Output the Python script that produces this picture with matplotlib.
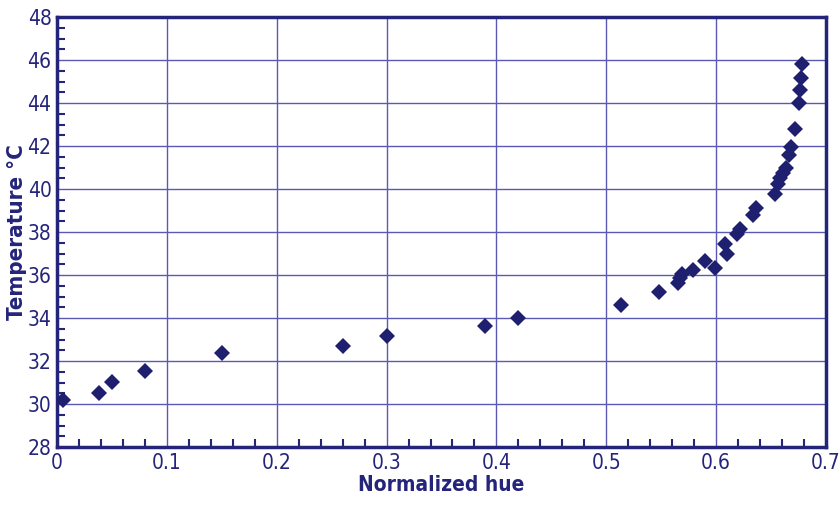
import matplotlib.pyplot as plt
from matplotlib.ticker import MultipleLocator

hue = [0.005, 0.038, 0.050, 0.080, 0.150, 0.260, 0.300, 0.390, 0.420, 0.513, 0.548,
       0.565, 0.567, 0.569, 0.579, 0.590, 0.599, 0.608, 0.610, 0.619, 0.622,
       0.634, 0.636, 0.654, 0.656, 0.658, 0.661, 0.664, 0.666, 0.668, 0.672,
       0.675, 0.676, 0.677, 0.678]
temp = [30.19, 30.51, 31.02, 31.53, 32.37, 32.70, 33.16, 33.63, 34.00, 34.60, 35.21,
        35.65, 35.85, 36.05, 36.21, 36.65, 36.34, 37.42, 36.98, 37.91, 38.14,
        38.77, 39.10, 39.77, 40.23, 40.49, 40.73, 40.98, 41.58, 41.97, 42.78,
        43.99, 44.60, 45.15, 45.81]

navy = '#24247a'
grid_col = '#5a5ab4'
plt.rcParams['font.family'] = ['DejaVu Sans']
plt.rcParams['font.stretch'] = 'condensed'

fig = plt.figure(figsize=(8.4, 5.09), dpi=100)
ax = fig.add_axes([0.0679, 0.1218, 0.9154, 0.8448])

ax.plot(hue, temp, 'D', color='#1f1f6f', markersize=8.5, markeredgewidth=0, zorder=3)

ax.set_xlim(0, 0.7)
ax.set_ylim(28, 48)
ax.xaxis.set_minor_locator(MultipleLocator(0.02))
ax.yaxis.set_major_locator(MultipleLocator(2))
ax.yaxis.set_minor_locator(MultipleLocator(0.5))
ax.set_xticks([0, 0.1, 0.2, 0.3, 0.4, 0.5, 0.6, 0.7])
ax.set_xticklabels(['0', '0.1', '0.2', '0.3', '0.4', '0.5', '0.6', '0.7'])

ax.grid(True, which='major', color=grid_col, linewidth=1.0)
ax.tick_params(which='both', direction='in', colors=navy, width=1.5)
ax.tick_params(which='major', length=0, labelsize=15, pad=4, labelcolor=navy)
ax.tick_params(which='minor', length=6)
for s in ax.spines.values():
    s.set_color(navy)
    s.set_linewidth(2.5)

ax.set_xlabel('Normalized hue', fontsize=15, fontweight='bold', color=navy, labelpad=2)
ax.set_ylabel('Temperature °C', fontsize=16, fontweight='bold', color=navy, labelpad=0)

fig.savefig('out.png', dpi=100)
